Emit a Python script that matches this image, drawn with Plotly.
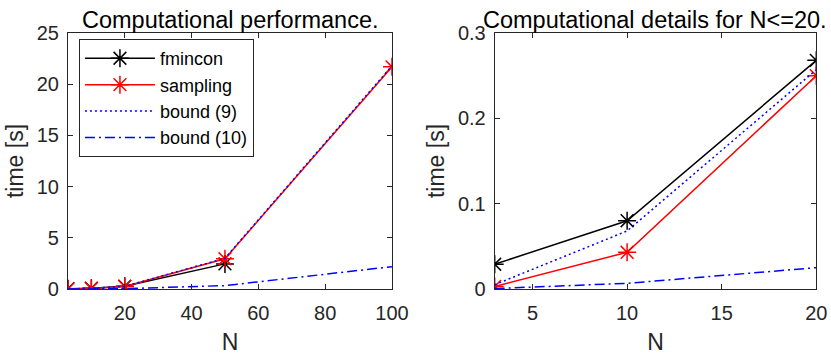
import plotly.graph_objects as go

# problem sizes
N_all = [3, 10, 20, 50, 100]
N_fmincon = [3, 10, 20, 50]

# run times in seconds
t_fmincon = [0.029, 0.080, 0.268, 2.45]
t_sampling = [0.003, 0.043, 0.250, 2.95, 21.7]
t_bound9 = [0.005, 0.068, 0.257, 3.0, 21.8]
t_bound10 = [0.0005, 0.0066, 0.025, 0.33, 2.18]

N_small = 20

FONT = "Liberation Sans, Arial, sans-serif"
AX = "#262626"


def upto(xs, ys, limit):
    pairs = [(x, y) for x, y in zip(xs, ys) if x <= limit]
    return [p[0] for p in pairs], [p[1] for p in pairs]


series = [
    ("fmincon", N_fmincon, t_fmincon, "black", "solid", True),
    ("sampling", N_all, t_sampling, "red", "solid", True),
    ("bound (9)", N_all, t_bound9, "blue", "2px,3px", False),
    ("bound (10)", N_all, t_bound10, "blue", "10px,4px,2px,4px", False),
]

fig = go.Figure()

# left panel: all N
for name, xs, ys, col, dash, star in series:
    fig.add_trace(go.Scatter(
        x=xs, y=ys, name=name, mode="lines+markers" if star else "lines",
        line=dict(color=col, width=1.5, dash=dash),
        marker=dict(symbol="asterisk-open", size=15, line=dict(color=col, width=1.5)),
        xaxis="x", yaxis="y",
    ))

# right panel: N <= 20 only
for name, xs, ys, col, dash, star in series:
    xs2, ys2 = upto(xs, ys, N_small)
    fig.add_trace(go.Scatter(
        x=xs2, y=ys2, name=name, showlegend=False,
        mode="lines+markers" if star else "lines",
        line=dict(color=col, width=1.5, dash=dash),
        marker=dict(symbol="asterisk-open", size=15, line=dict(color=col, width=1.5)),
        xaxis="x2", yaxis="y2",
    ))

axis_style = dict(
    showline=True, linecolor=AX, linewidth=1, mirror="ticks",
    ticks="inside", ticklen=5, tickcolor=AX, tickwidth=1,
    showgrid=False, zeroline=False, automargin=False,
    tickfont=dict(size=20, color=AX, family=FONT),
)
xstyle = dict(axis_style, ticklabelstandoff=6)
ystyle = dict(axis_style, ticklabelstandoff=4)

fig.update_layout(
    width=831, height=355,
    margin=dict(l=0, r=0, t=0, b=0),
    plot_bgcolor="white", paper_bgcolor="white",
    font=dict(family=FONT, color=AX),
    xaxis=dict(domain=[0.0818, 0.4717], range=[3, 100], tickvals=[20, 40, 60, 80, 100],
               title=dict(text="N", font=dict(size=23), standoff=12), anchor="y", **xstyle),
    yaxis=dict(domain=[0.186, 0.907], range=[0, 25], tickvals=[0, 5, 10, 15, 20, 25],
               title=dict(text="time [s]", font=dict(size=23), standoff=6), anchor="x", **ystyle),
    xaxis2=dict(domain=[0.5953, 0.9823], range=[3, 20], tickvals=[5, 10, 15, 20],
                title=dict(text="N", font=dict(size=23), standoff=12), anchor="y2", **xstyle),
    yaxis2=dict(domain=[0.186, 0.907], range=[0, 0.3], tickvals=[0, 0.1, 0.2, 0.3],
                title=dict(text="time [s]", font=dict(size=23), standoff=6), anchor="x2", **ystyle),
    legend=dict(x=0.095, y=0.89, xanchor="left", yanchor="top", itemwidth=70,
                bgcolor="white", bordercolor=AX, borderwidth=1,
                font=dict(size=18, color="black", family=FONT)),
    annotations=[
        dict(text="Computational performance.", x=0.2768, y=0.907, xref="paper", yref="paper",
             xanchor="center", yanchor="bottom", yshift=-2, showarrow=False,
             font=dict(size=23.5, color="black", family=FONT)),
        dict(text="Computational details for N<=20.", x=0.7888, y=0.907, xref="paper", yref="paper",
             xanchor="center", yanchor="bottom", yshift=-2, showarrow=False,
             font=dict(size=23.5, color="black", family=FONT)),
    ],
)

fig.write_html("out.html", config={"displayModeBar": False},
               post_script="document.body.style.margin='0';")
